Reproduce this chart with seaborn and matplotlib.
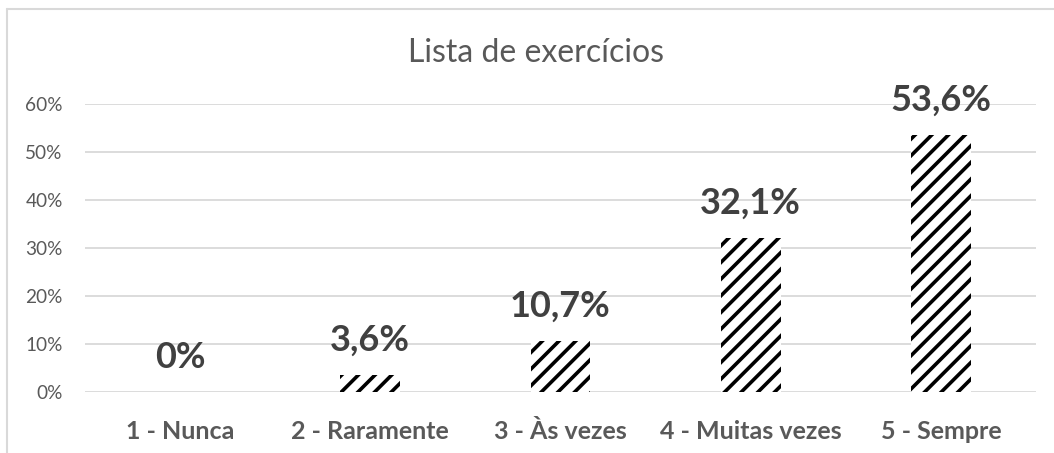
import matplotlib
matplotlib.use("Agg")
import matplotlib.pyplot as plt
import seaborn as sns
from matplotlib.lines import Line2D
from matplotlib.ticker import FuncFormatter

categories = ["1 - Nunca", "2 - Raramente", "3 - Às vezes", "4 - Muitas vezes", "5 - Sempre"]
values = [0.0, 3.6, 10.7, 32.1, 53.6]
value_labels = ["0%", "3,6%", "10,7%", "32,1%", "53,6%"]
title = "Lista de exercícios"

sns.set_style("white")
plt.rcParams["font.family"] = ["Lato", "DejaVu Sans"]
plt.rcParams["hatch.linewidth"] = 2.6

grey = "#595959"
grid_c = "#d9d9d9"

fig = plt.figure(figsize=(10.54, 4.53), dpi=100)
ax = fig.add_axes([85 / 1054, 1 - 392 / 453, (1036 - 85) / 1054, (392 - 104) / 453])

sns.barplot(x=categories, y=values, color="white", edgecolor="black",
            linewidth=0, hatch="//", width=0.315, ax=ax, zorder=3)

ax.set_ylim(0, 60)
ax.set_yticks(range(0, 61, 10))
ax.yaxis.set_major_formatter(FuncFormatter(lambda v, p: f"{int(v)}%"))
ax.grid(axis="y", color=grid_c, linewidth=1.3, zorder=0)
ax.set_axisbelow(True)
for s in ax.spines.values():
    s.set_visible(False)
ax.tick_params(axis="y", length=0, pad=16, labelsize=13.7, labelcolor=grey)
ax.tick_params(axis="x", length=0, pad=20, labelsize=18, labelcolor=grey)
for t in ax.get_xticklabels():
    t.set_fontweight("bold")
ax.set_xlabel("")
ax.set_ylabel("")

for i, (v, lab) in enumerate(zip(values, value_labels)):
    ax.annotate(lab, (i, v), xytext=(0, 25), textcoords="offset points",
                ha="center", va="center", fontsize=26, fontweight="bold",
                color="#404040", annotation_clip=False, clip_on=False)

fig.text(536 / 1054, 1 - 53 / 453, title, ha="center", va="center",
         fontsize=23, color=grey)

# chart frame (top and left edges visible)
fig.add_artist(Line2D([7 / 1054, 7 / 1054], [0, 1 - 9 / 453], transform=fig.transFigure,
                      color=grid_c, linewidth=1.5))
fig.add_artist(Line2D([7 / 1054, 1], [1 - 9 / 453, 1 - 9 / 453], transform=fig.transFigure,
                      color=grid_c, linewidth=1.5))

fig.savefig("out.png", dpi=100)
